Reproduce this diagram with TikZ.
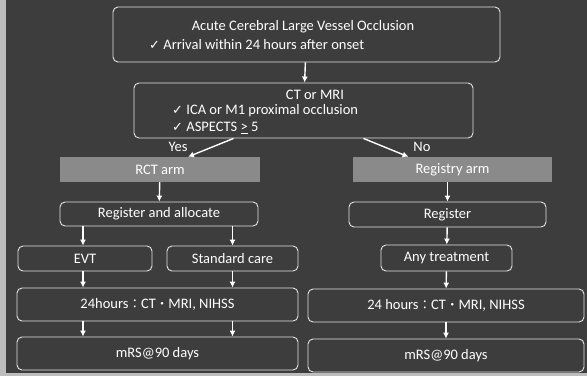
\documentclass[tikz,border=0pt]{standalone}
\usepackage{fontspec}
\setmainfont{Carlito}
\newfontfamily\symfont{DejaVu Sans}
\newfontfamily\jpfont{Noto Sans CJK JP}
\usetikzlibrary{arrows.meta}
\definecolor{bgdark}{HTML}{3D3D3D}
\definecolor{bgedge}{HTML}{BDBDBD}
\definecolor{bandgray}{HTML}{8A8A8A}
\definecolor{edgegray}{HTML}{E4E4E4}
\tikzset{box/.style={draw=edgegray, line width=0.9pt, rounded corners=5pt, inner sep=0pt, text=white},
  band/.style={fill=bandgray, inner sep=0pt, text=white},
  arr/.style={-{Latex[length=6pt,width=6pt]}, draw=white, line width=1.4pt},
  lbl/.style={text=white, inner sep=0pt}}
\newcommand{\ck}{{\symfont\fontsize{13}{14}\selectfont ✓}}
\newcommand{\jp}[1]{{\jpfont\fontsize{12.5}{14}\selectfont #1}}

\begin{document}
\begin{tikzpicture}[x=1pt, y=-1pt, font=\fontsize{14.5}{16}\selectfont]
\useasboundingbox (0,0) rectangle (587,376);
\fill[bgedge] (0,0) rectangle (587,376);
\fill[bgdark] (6,0) rectangle (587,373);
% screening
\node[box, minimum width=387pt, minimum height=55pt] (onset) at (306.5,34.5) {};
\node[lbl] (onsettitle) at (303,27) {Acute Cerebral Large Vessel Occlusion};
\node[lbl, anchor=west] (onsetck) at (149,45) {\ck\ Arrival within 24 hours after onset};
\node[box, minimum width=339pt, minimum height=55pt] (imaging) at (303.5,110.5) {};
\node[lbl] (imgtitle) at (315,95) {CT or MRI};
\node[lbl, anchor=west] (imgck1) at (172,111) {\ck\ ICA or M1 proximal occlusion};
\node[lbl, anchor=west] (imgck2) at (172,128) {\ck\ ASPECTS \underline{>} 5};
\draw[arr] (onset) -- (imaging);
% arms
\node[band, minimum width=200pt, minimum height=25pt] (rct) at (160,169.5) {RCT arm};
\node[band, minimum width=199pt, minimum height=25pt] (registry) at (452.5,169.5) {Registry arm};
\draw[arr] ([xshift=-70pt]imaging.south) -- ([xshift=28pt]rct.north);
\draw[arr] ([xshift=60pt]imaging.south) -- ([xshift=-44pt]registry.north);
\node[lbl] (yes) at (178,147) {Yes};
\node[lbl] (no) at (422,147) {No};
% RCT
\node[box, minimum width=198pt, minimum height=24pt] (alloc) at (159,214) {Register and allocate};
\node[box, minimum width=134pt, minimum height=25pt] (evt) at (85,258.5) {EVT};
\node[box, minimum width=131pt, minimum height=25pt] (std) at (232.5,258.5) {Standard care};
\node[box, minimum width=281pt, minimum height=33pt] (rctimg) at (157.5,304.5) {24hours\jp{：}CT\jp{・}MRI, NIHSS};
\node[box, minimum width=281pt, minimum height=33pt] (rctmrs) at (157.5,353.5) {mRS@90 days};
\draw[arr] (rct) -- (alloc);
\draw[arr] (alloc.south -| 83,0) -- (evt.north -| 83,0);
\draw[arr] (alloc.south -| std) -- (std);
\draw[arr] (evt.south -| 83,0) -- (rctimg.north -| 83,0);
\draw[arr] (std) -- (rctimg.north -| std);
\draw[arr] (rctimg.south -| 83,0) -- (rctmrs.north -| 83,0);
\draw[arr] (rctimg.south -| std) -- (rctmrs.north -| std);
% Registry
\node[box, minimum width=197pt, minimum height=25pt] (reg) at (447.5,214.5) {Register};
\node[box, minimum width=131pt, minimum height=26pt] (anytx) at (446.5,258) {Any treatment};
\node[box, minimum width=276pt, minimum height=33pt] (regimg) at (446,305.5) {24 hours\jp{：}CT\jp{・}MRI, NIHSS};
\node[box, minimum width=276pt, minimum height=33pt] (regmrs) at (446,355.5) {mRS@90 days};
\draw[arr] (registry.south -| reg) -- (reg);
\draw[arr] (reg) -- (anytx);
\draw[arr] (anytx) -- (regimg);
\draw[arr] (regimg) -- (regmrs);
\end{tikzpicture}
\end{document}
